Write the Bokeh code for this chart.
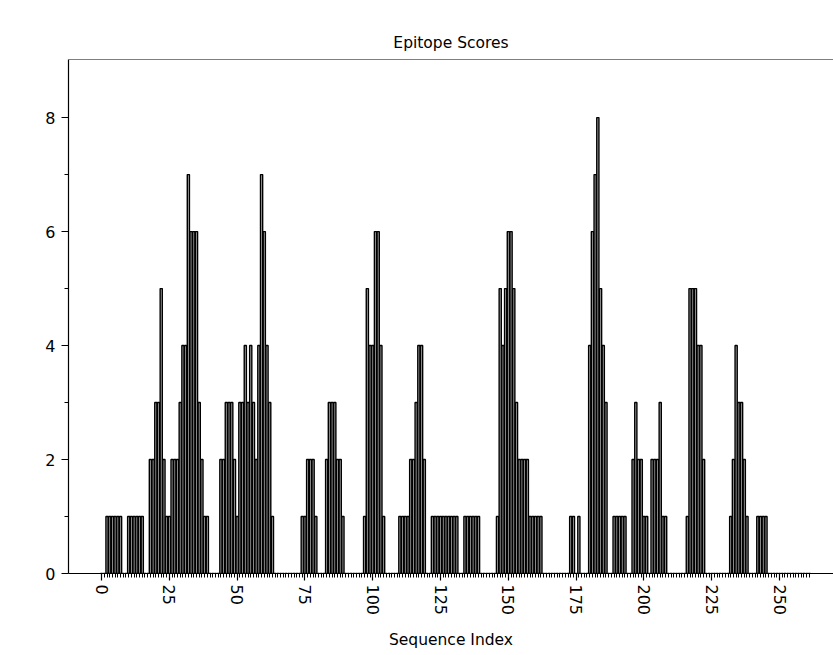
from bokeh.plotting import figure
from bokeh.models import Range1d, FixedTicker, Span, ColumnDataSource
from bokeh.embed import file_html
from bokeh.resources import INLINE

# Sequence positions and epitope scores
positions = list(range(0, 262))
scores = [
    0, 0, 1, 1, 1, 1, 1, 1, 0, 0,
    1, 1, 1, 1, 1, 1, 0, 0, 2, 2,
    3, 3, 5, 2, 1, 1, 2, 2, 2, 3,
    4, 4, 7, 6, 6, 6, 3, 2, 1, 1,
    0, 0, 0, 0, 2, 2, 3, 3, 3, 2,
    1, 3, 3, 4, 3, 4, 3, 2, 4, 7,
    6, 4, 3, 1, 0, 0, 0, 0, 0, 0,
    0, 0, 0, 0, 1, 1, 2, 2, 2, 1,
    0, 0, 0, 2, 3, 3, 3, 2, 2, 1,
    0, 0, 0, 0, 0, 0, 0, 1, 5, 4,
    4, 6, 6, 4, 1, 0, 0, 0, 0, 0,
    1, 1, 1, 1, 2, 2, 3, 4, 4, 2,
    0, 0, 1, 1, 1, 1, 1, 1, 1, 1,
    1, 1, 0, 0, 1, 1, 1, 1, 1, 1,
    0, 0, 0, 0, 0, 0, 1, 5, 4, 5,
    6, 6, 5, 3, 2, 2, 2, 2, 1, 1,
    1, 1, 1, 0, 0, 0, 0, 0, 0, 0,
    0, 0, 0, 1, 1, 0, 1, 0, 0, 0,
    4, 6, 7, 8, 5, 4, 3, 0, 0, 1,
    1, 1, 1, 1, 0, 0, 2, 3, 2, 2,
    1, 1, 0, 2, 2, 2, 3, 1, 1, 0,
    0, 0, 0, 0, 0, 0, 1, 5, 5, 5,
    4, 4, 2, 0, 0, 0, 0, 0, 0, 0,
    0, 0, 1, 2, 4, 3, 3, 2, 1, 0,
    0, 0, 1, 1, 1, 1, 0, 0, 0, 0,
    0, 0, 0, 0, 0, 0, 0, 0, 0, 0,
    0, 0,
]
x_major_ticks = [0, 25, 50, 75, 100, 125, 150, 175, 200, 225, 250]
y_major_ticks = [0, 2, 4, 6, 8]
y_minor_ticks = [1, 3, 5, 7]

FONT = "DejaVu Sans"

p = figure(width=833, height=655, output_backend="svg", toolbar_location=None,
           x_range=Range1d(-12.2, 269.9), y_range=Range1d(0, 9.02),
           min_border_left=68, min_border_right=0, min_border_top=59,
           min_border_bottom=82, title="Epitope Scores")
p.outline_line_color = None
p.xgrid.visible = False
p.ygrid.visible = False
p.background_fill_color = "white"
p.border_fill_color = "white"

p.title.align = "center"
p.title.text_font = FONT
p.title.text_font_size = "15.5px"
p.title.text_font_style = "normal"
p.title.text_color = "black"
p.title.standoff = 15

src = ColumnDataSource(dict(x=positions, top=scores))
p.vbar(x="x", top="top", bottom=0, width=0.8, source=src,
       fill_color="#b0b0b0", line_color="black", line_width=1.4)

for ax in (p.xaxis[0], p.yaxis[0]):
    ax.axis_line_color = "black"
    ax.axis_line_width = 1.2
    ax.major_tick_line_color = "black"
    ax.major_tick_line_width = 1.2
    ax.minor_tick_line_color = "black"
    ax.major_tick_in = 0
    ax.major_tick_out = 7
    ax.minor_tick_in = 0
    ax.minor_tick_out = 4
    ax.major_label_text_font = FONT
    ax.major_label_text_font_size = "16px"
    ax.major_label_text_color = "black"
    ax.axis_label_text_font = FONT
    ax.axis_label_text_font_size = "15.5px"
    ax.axis_label_text_font_style = "normal"
    ax.axis_label_text_color = "black"

p.xaxis.ticker = FixedTicker(ticks=x_major_ticks, minor_ticks=positions)
p.xaxis.major_label_orientation = "vertical"
p.xaxis.major_label_standoff = 4
p.xaxis.axis_label = "Sequence Index"
p.xaxis.axis_label_standoff = 13
p.yaxis.ticker = FixedTicker(ticks=y_major_ticks, minor_ticks=y_minor_ticks)
p.yaxis.major_label_standoff = 6

top_spine = Span(location=9.02, dimension="width", line_color="black", line_width=1.2)
p.add_layout(top_spine)

open("out.html", "w").write(file_html(p, INLINE))
